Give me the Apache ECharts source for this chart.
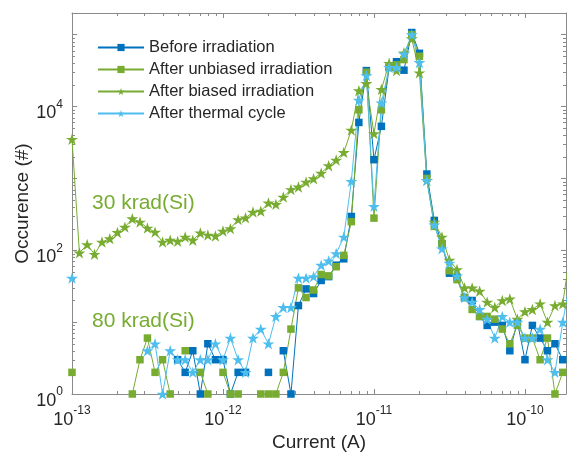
<!DOCTYPE html>
<html>
<head>
<meta charset="utf-8">
<script src="https://cdn.jsdelivr.net/npm/echarts@6/dist/echarts.min.js"></script>
<style>
html, body { margin: 0; padding: 0; background: #fff; }
#chart { width: 567px; height: 457px; }
</style>
</head>
<body>
<div id="chart"></div>
<script>
// bin centres of the current histogram (A), 20 bins per decade
var currents = [
    1.00e-13, 1.12e-13, 1.26e-13, 1.41e-13, 1.58e-13, 1.78e-13, 2.00e-13, 2.24e-13, 2.51e-13, 2.82e-13,
    3.16e-13, 3.55e-13, 3.98e-13, 4.47e-13, 5.01e-13, 5.62e-13, 6.31e-13, 7.08e-13, 7.94e-13, 8.91e-13,
    1.00e-12, 1.12e-12, 1.26e-12, 1.41e-12, 1.58e-12, 1.78e-12, 2.00e-12, 2.24e-12, 2.51e-12, 2.82e-12,
    3.16e-12, 3.55e-12, 3.98e-12, 4.47e-12, 5.01e-12, 5.62e-12, 6.31e-12, 7.08e-12, 7.94e-12, 8.91e-12,
    1.00e-11, 1.12e-11, 1.26e-11, 1.41e-11, 1.58e-11, 1.78e-11, 2.00e-11, 2.24e-11, 2.51e-11, 2.82e-11,
    3.16e-11, 3.55e-11, 3.98e-11, 4.47e-11, 5.01e-11, 5.62e-11, 6.31e-11, 7.08e-11, 7.94e-11, 8.91e-11,
    1.00e-10, 1.12e-10, 1.26e-10, 1.41e-10, 1.58e-10, 1.78e-10, 2.00e-10
];

// occurrences, null = empty bin (not drawn on log scale)
var beforeIrr = [
    null, null, null, null, null, null, null, null, null, null,
    null, null, null, null, 3, 2, 4, 1, 5, 3,
    3, 1, 2, 2, null, null, 2, null, 4, 1,
    17, 29, 25, 38, 43, 62, 76, 295, 6000, 31600,
    1820, 5300, 35000, 42000, 32000, 107000, 55000, 1150, 260, 123,
    48, 42, 22, 20, 12, 9, 10, 9, 4, 10,
    3, 9, 6, 4, 5, 3, null
];
var unbiasedIrr = [
    2, null, null, null, null, null, null, null, 1, 3,
    6, 2, 3, 1, null, 4, null, 2, 1, null,
    2, 1, 1, null, null, 1, 1, 1, 2, 8,
    30, 22, 28, 46, 44, 59, 85, 250, 9000, 30000,
    280, 9000, 35000, 38000, 45000, 100000, 50000, 1000, 215, 123,
    52, 39, 22, 15, 12, 12, 11, 8, 5, 9,
    6, 6, 3, 6, 1, 2, null
];
var biasedIrr = [
    3500, 92, 120, 88, 130, 145, 177, 210, 275, 247,
    204, 179, 130, 138, 133, 153, 138, 174, 163, 158,
    185, 200, 267, 283, 340, 350, 456, 435, 550, 700,
    760, 890, 990, 1180, 1500, 1800, 2300, 4700, 16600, 21000,
    4200, 17300, 40000, 31600, 56000, 88000, 29500, 940, 247, 153,
    73, 54, 30, 30, 27, 19, 16, 20, 21, 11,
    14, 15, 18, 10, 17, 18, 100
];
var thermalCycle = [
    41, null, null, null, null, null, null, null, null, null,
    4, 5, 1, 4, 3, 3, 2, 3, 3, 5,
    3, 6, 3, 2, 6, 8, 5, 12, 16, 16,
    41, 41, 43, 62, 71, 90, 153, 910, 12300, 27000,
    408, 11200, 35000, 35000, 54000, 100000, 41000, 940, 225, 105,
    66, 44, 22, 19, 15, 11, 6, 12, 10, 10,
    6, 6, 8, 3, 2, 10, 40
];

var seriesNames = ['Before irradiation', 'After unbiased irradiation', 'After biased irradiation', 'After thermal cycle'];

var XMIN = 1e-13, XMAX = 1.87e-10;
var YMIN = 1, YMAX = 2e5;
var AXIS = '#8a8a8a';
var TEXT = '#262626';
var FONT = '"Liberation Sans", Arial, Helvetica, sans-serif';
var STAR = 'path://M50,0 L61.2,34.5 L97.6,34.5 L68.2,55.9 L79.4,90.5 L50,69.1 L20.6,90.5 L31.8,55.9 L2.4,34.5 L38.8,34.5 Z';

function pairs(values) {
    var out = [];
    for (var i = 0; i < currents.length; i++) {
        out.push([currents[i], values[i] == null ? '-' : values[i]]);
    }
    return out;
}

function powLabel(v, evenOnly) {
    var e = Math.log10(v);
    var r = Math.round(e);
    if (Math.abs(e - r) > 1e-6) return '';
    if (evenOnly && r % 2 != 0) return '';
    return '{b|10}{s|' + r + '}';
}

var labelRich = {
    b: { fontSize: 18, color: TEXT, fontFamily: FONT, verticalAlign: 'bottom', lineHeight: 24 },
    s: { fontSize: 12, color: TEXT, fontFamily: FONT, verticalAlign: 'top', lineHeight: 24 }
};

// minor log ticks (2..9 x 10^k), drawn on both sides of the box
var xMinor = [], yMinor = [];
for (var k = -13; k <= -10; k++) {
    for (var m = 2; m <= 9; m++) {
        var xv = m * Math.pow(10, k);
        if (xv < XMAX) xMinor.push([xv, YMIN]);
    }
}
for (var k2 = 0; k2 <= 5; k2++) {
    for (var m2 = 2; m2 <= 9; m2++) {
        var yv = m2 * Math.pow(10, k2);
        if (yv < YMAX) yMinor.push([XMIN, yv]);
    }
}

function tickLine(x1, y1, x2, y2) {
    return { type: 'line', shape: { x1: x1, y1: y1, x2: x2, y2: y2 }, style: { stroke: AXIS, lineWidth: 1 } };
}

function baseSeries(name, data, color, symbol, size) {
    return {
        name: name,
        type: 'line',
        data: pairs(data),
        symbol: symbol,
        symbolSize: size,
        symbolKeepAspect: true,
        showSymbol: true,
        connectNulls: false,
        clip: true,
        lineStyle: { color: color, width: 1 },
        itemStyle: { color: color },
        emphasis: { disabled: true },
        animation: false
    };
}

var chart = echarts.init(document.getElementById('chart'));

var option = {
    backgroundColor: '#fff',
    animation: false,
    textStyle: { fontFamily: FONT },
    grid: { left: 72, right: 1, top: 13, bottom: 63, containLabel: false, outerBoundsMode: 'none' },
    legend: {
        data: seriesNames,
        orient: 'vertical',
        left: 92,
        top: 34,
        itemWidth: 46,
        itemHeight: 9,
        itemGap: 5,
        textStyle: { fontSize: 16.5, color: TEXT, fontFamily: FONT }
    },
    xAxis: [{
        type: 'log',
        logBase: 10,
        min: XMIN,
        max: XMAX,
        name: 'Current (A)',
        nameLocation: 'middle',
        nameGap: 39,
        nameMoveOverlap: false,
        nameTextStyle: { fontSize: 19, color: TEXT, fontFamily: FONT },
        axisLine: { lineStyle: { color: AXIS, width: 1 } },
        axisTick: { inside: true, length: 5, lineStyle: { color: AXIS } },
        axisLabel: { margin: 11, formatter: function (v) { return powLabel(v, false); }, rich: labelRich },
        splitLine: { show: false }
    }, {
        type: 'log',
        logBase: 10,
        min: XMIN,
        max: XMAX,
        position: 'top',
        axisLine: { lineStyle: { color: AXIS, width: 1 } },
        axisTick: { inside: true, length: 5, lineStyle: { color: AXIS } },
        axisLabel: { show: false },
        splitLine: { show: false }
    }],
    yAxis: [{
        type: 'log',
        logBase: 10,
        min: YMIN,
        max: YMAX,
        name: 'Occurence (#)',
        nameLocation: 'middle',
        nameGap: 40,
        nameMoveOverlap: false,
        nameRotate: 90,
        nameTextStyle: { fontSize: 19, color: TEXT, fontFamily: FONT },
        axisLine: { lineStyle: { color: AXIS, width: 1 } },
        axisTick: { inside: true, length: 5, lineStyle: { color: AXIS } },
        axisLabel: { margin: 9, padding: [8, 0, 0, 0], formatter: function (v) { return powLabel(v, true); }, rich: labelRich },
        splitLine: { show: false }
    }, {
        type: 'log',
        logBase: 10,
        min: YMIN,
        max: YMAX,
        position: 'right',
        axisLine: { lineStyle: { color: AXIS, width: 1 } },
        axisTick: { inside: true, length: 5, lineStyle: { color: AXIS } },
        axisLabel: { show: false },
        splitLine: { show: false }
    }],
    graphic: [{
        type: 'text',
        left: 92,
        top: 193,
        style: { text: '30 krad(Si)', fontSize: 21, fill: '#77AC30', fontFamily: FONT }
    }, {
        type: 'text',
        left: 92,
        top: 311,
        style: { text: '80 krad(Si)', fontSize: 21, fill: '#77AC30', fontFamily: FONT }
    }],
    series: [
        baseSeries(seriesNames[0], beforeIrr, '#0072BD', 'rect', 7.5),
        baseSeries(seriesNames[1], unbiasedIrr, '#77AC30', 'rect', 7.5),
        baseSeries(seriesNames[2], biasedIrr, '#77AC30', STAR, 12),
        baseSeries(seriesNames[3], thermalCycle, '#4DBEEE', STAR, 12),
        {
            type: 'custom',
            silent: true,
            clip: false,
            data: xMinor,
            renderItem: function (params, api) {
                var v = api.value(0);
                var b = api.coord([v, YMIN]);
                var t = api.coord([v, YMAX]);
                var x = Math.round(b[0]) + 0.5;
                return { type: 'group', children: [
                    tickLine(x, b[1], x, b[1] - 3),
                    tickLine(x, t[1], x, t[1] + 3)
                ] };
            },
            z: 1
        },
        {
            type: 'custom',
            silent: true,
            clip: false,
            data: yMinor,
            renderItem: function (params, api) {
                var v = api.value(1);
                var l = api.coord([XMIN, v]);
                var r = api.coord([XMAX, v]);
                var y = Math.round(l[1]) + 0.5;
                return { type: 'group', children: [
                    tickLine(l[0], y, l[0] + 3, y),
                    tickLine(r[0], y, r[0] - 3, y)
                ] };
            },
            z: 1
        }
    ]
};

chart.setOption(option);
</script>
</body>
</html>
